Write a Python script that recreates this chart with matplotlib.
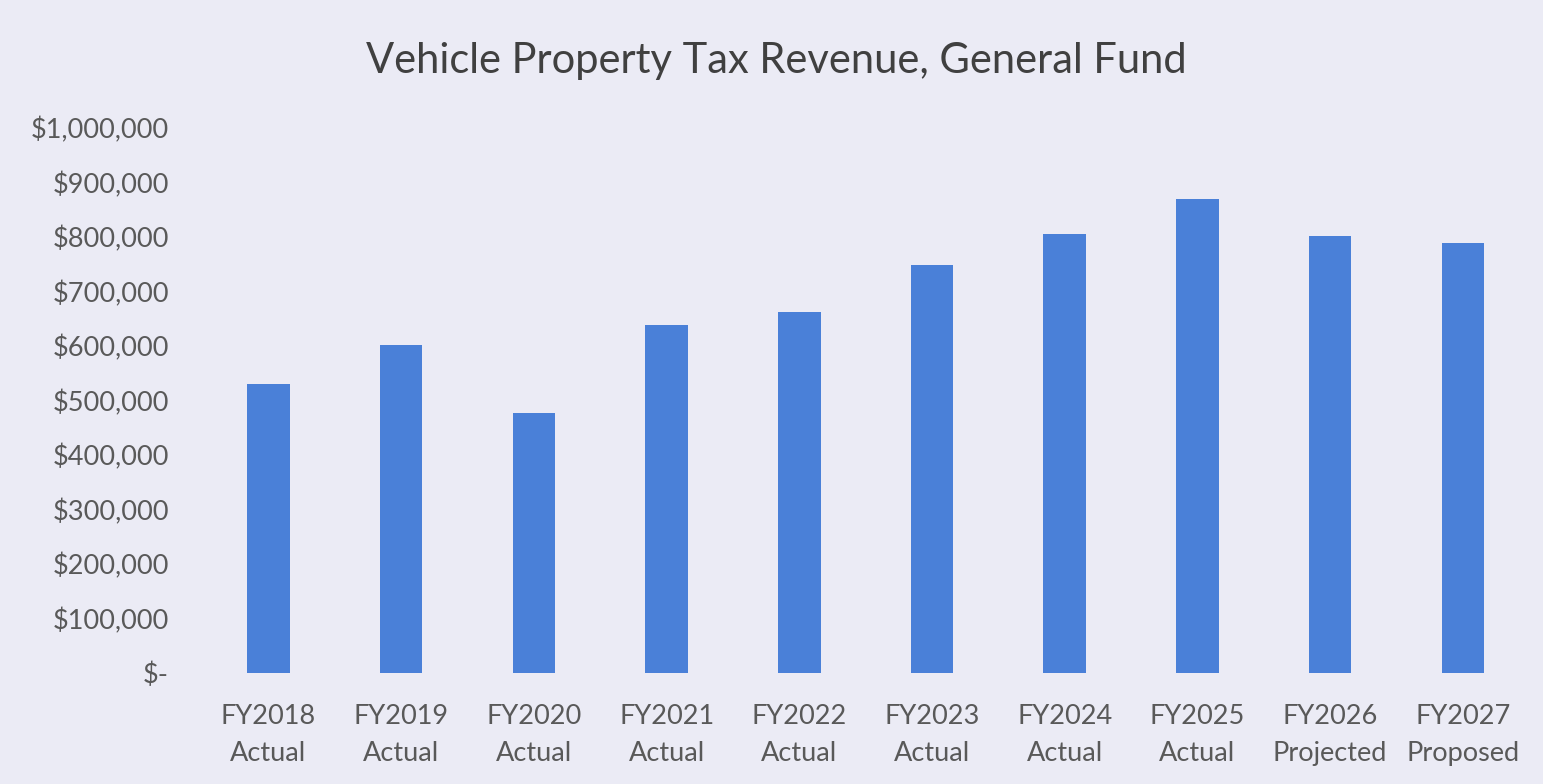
import matplotlib.pyplot as plt
from matplotlib.ticker import FuncFormatter

years = ['FY2018', 'FY2019', 'FY2020', 'FY2021', 'FY2022',
         'FY2023', 'FY2024', 'FY2025', 'FY2026', 'FY2027']
status = ['Actual', 'Actual', 'Actual', 'Actual', 'Actual',
          'Actual', 'Actual', 'Actual', 'Projected', 'Proposed']
revenue = [530000, 602000, 477000, 639000, 662000,
           749000, 805000, 870000, 802000, 789000]

bg = '#ebebf5'
bar_color = '#4a80d8'
text_color = '#595959'

plt.rcParams['font.family'] = ['Lato', 'DejaVu Sans']

fig = plt.figure(figsize=(15.43, 7.84), dpi=100)
fig.patch.set_facecolor(bg)
ax = fig.add_axes([0.131, 0.1416, 0.86, 0.6951])
ax.set_facecolor(bg)

x = range(len(years))
ax.bar(x, revenue, width=0.32, color=bar_color)

ax.set_xlim(-0.5, len(years) - 0.5)
ax.set_ylim(0, 1000000)
ax.set_yticks(range(0, 1000001, 100000))


def money(v, pos):
    if v == 0:
        return '$-'
    return '${:,.0f}'.format(v)


ax.yaxis.set_major_formatter(FuncFormatter(money))
ax.set_xticks(list(x))
ax.set_xticklabels([f'{y}\n{s}' for y, s in zip(years, status)],
                   linespacing=1.6)
ax.tick_params(axis='both', length=0, labelsize=19.5, colors=text_color)
ax.tick_params(axis='x', pad=22)
ax.tick_params(axis='y', pad=24)
for s in ax.spines.values():
    s.set_visible(False)

fig.text(0.503, 0.922, 'Vehicle Property Tax Revenue, General Fund',
         ha='center', va='center', fontsize=30, color='#404040')

fig.savefig('out.png', facecolor=bg)
